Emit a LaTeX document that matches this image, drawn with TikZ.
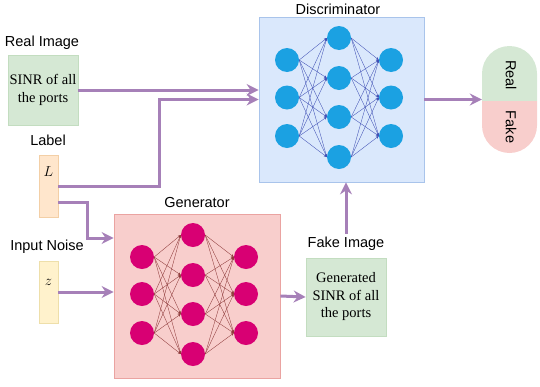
\documentclass[tikz,border=0pt]{standalone}
\usepackage{fontspec}
\setmainfont{Liberation Serif}
\newfontfamily\labfont{Liberation Sans}
\usetikzlibrary{arrows.meta}
\definecolor{arrc}{HTML}{A680B8}
\definecolor{discfill}{HTML}{DAE8FC}
\definecolor{discdraw}{HTML}{A9C4EB}
\definecolor{genfill}{HTML}{F8CECC}
\definecolor{gendraw}{HTML}{EAA3A1}
\definecolor{greenfill}{HTML}{D5E8D4}
\definecolor{greendraw}{HTML}{C3DDC0}
\definecolor{orfill}{HTML}{FFE6CC}
\definecolor{ordraw}{HTML}{F3CFA6}
\definecolor{yelfill}{HTML}{FFF2CC}
\definecolor{yeldraw}{HTML}{EEDFAA}
\definecolor{bluec}{HTML}{1BA1E2}
\definecolor{magc}{HTML}{D80073}
\definecolor{dline}{HTML}{3F4FB5}
\definecolor{gline}{HTML}{8E3A3A}
\tikzset{
  arr/.style={draw=arrc, line width=3pt, arrows={-Stealth[length=12pt,width=12pt,inset=4pt]}},
  lab/.style={font=\labfont\fontsize{14.5}{16}\selectfont, inner sep=0pt},
  boxtext/.style={font=\fontsize{14.5}{17.5}\selectfont, align=center},
  dneuron/.style={circle, fill=bluec, minimum size=24pt, inner sep=0pt},
  gneuron/.style={circle, fill=magc, minimum size=24pt, inner sep=0pt},
  dconn/.style={draw=dline, line width=0.35pt, arrows={-Stealth[length=3pt,width=2.5pt]}},
  gconn/.style={draw=gline, line width=0.35pt, arrows={-Stealth[length=3pt,width=2.5pt]}},
}
\begin{document}
\begin{tikzpicture}[x=1pt,y=-1pt]
\useasboundingbox (0,0) rectangle (540,386);
% boxes
\node[draw=discdraw, fill=discfill, line width=0.8pt, minimum width=165pt, minimum height=165pt, inner sep=0pt] (disc) at (341.5,99.5) {};
\node[draw=gendraw, fill=genfill, line width=0.8pt, minimum width=166pt, minimum height=164pt, inner sep=0pt] (gen) at (197,296) {};
\node[draw=greendraw, fill=greenfill, line width=0.8pt, minimum width=70pt, minimum height=70pt, inner sep=0pt, boxtext] (real) at (43,90) {SINR of all\\the ports};
\node[draw=greendraw, fill=greenfill, line width=0.8pt, minimum width=80pt, minimum height=78pt, inner sep=0pt, boxtext] (fake) at (346,297) {Generated\\SINR of all\\the ports};
\node[draw=ordraw, fill=orfill, line width=0.8pt, minimum width=19pt, minimum height=62pt, inner sep=0pt] (L) at (48.5,186) {};
\node[font=\fontsize{15}{16}\selectfont] at (48.5,172) {$L$};
\node[draw=yeldraw, fill=yelfill, line width=0.8pt, minimum width=19pt, minimum height=62pt, inner sep=0pt] (z) at (48.5,292) {};
\node[font=\fontsize{15}{16}\selectfont] at (48.5,282) {$z$};
% labels
\node[lab] (reallbl) at (42,43) {Real Image};
\node[lab] (Llbl) at (48,140) {Label};
\node[lab] (noiselbl) at (47,247) {Input Noise};
\node[lab] (genlbl) at (197,203) {Generator};
\node[lab] (disclbl) at (338,9) {Discriminator};
\node[lab] (fakelbl) at (346,244) {Fake Image};
% output real/fake
\fill[greenfill] (482,101) -- (482,73.5) arc[start angle=180, end angle=360, radius=27.5] -- (537,101) -- cycle;
\fill[genfill] (482,101) -- (482,125.5) arc[start angle=180, end angle=0, radius=27.5] -- (537,101) -- cycle;
\node[minimum width=55pt, minimum height=107pt, inner sep=0pt] (out) at (509.5,100) {};
\node[lab, rotate=-90] (reallab) at (511,75) {Real};
\node[lab, rotate=-90] (fakelab) at (511,127) {Fake};
% discriminator neurons
\foreach \i/\y in {1/60,2/97.5,3/136} {
  \node[dneuron] (da\i) at (287,\y) {};
  \node[dneuron] (dc\i) at (391,\y) {};
}
\foreach \i/\y in {1/38,2/78,3/117,4/157} {
  \node[dneuron] (db\i) at (339,\y) {};
}
\foreach \i in {1,2,3} {
  \foreach \j in {1,2,3,4} {
    \draw[dconn] (da\i.east) -- (db\j.west);
    \draw[dconn] (db\j.east) -- (dc\i.west);
  }
}
% generator neurons
\foreach \i/\y in {1/257,2/294,3/333} {
  \node[gneuron] (ga\i) at (142,\y) {};
  \node[gneuron] (gc\i) at (246,\y) {};
}
\foreach \i/\y in {1/235,2/275,3/314,4/354} {
  \node[gneuron] (gb\i) at (193,\y) {};
}
\foreach \i in {1,2,3} {
  \foreach \j in {1,2,3,4} {
    \draw[gconn] (ga\i.east) -- (gb\j.west);
    \draw[gconn] (gb\j.east) -- (gc\i.west);
  }
}
% arrows
\draw[arr] (real.east) -- (real.east -| disc.west);
\draw[arr] (L.east) -- (159,186) |- (disc.west);
\coordinate (Lout) at (58,202);
\draw[arr] (Lout) -- (87,202) |- (gen.west |- 0,238);
\draw[arr] (z.east) -- (z.east -| gen.west);
\draw[arr] (gen.east) -- (fake.west);
\draw[arr] (fakelbl.north) ++(0,-3) -- (fakelbl.north |- disc.south);
\draw[arr] (disc.east) -- (disc.east -| out.west);
\end{tikzpicture}
\end{document}
